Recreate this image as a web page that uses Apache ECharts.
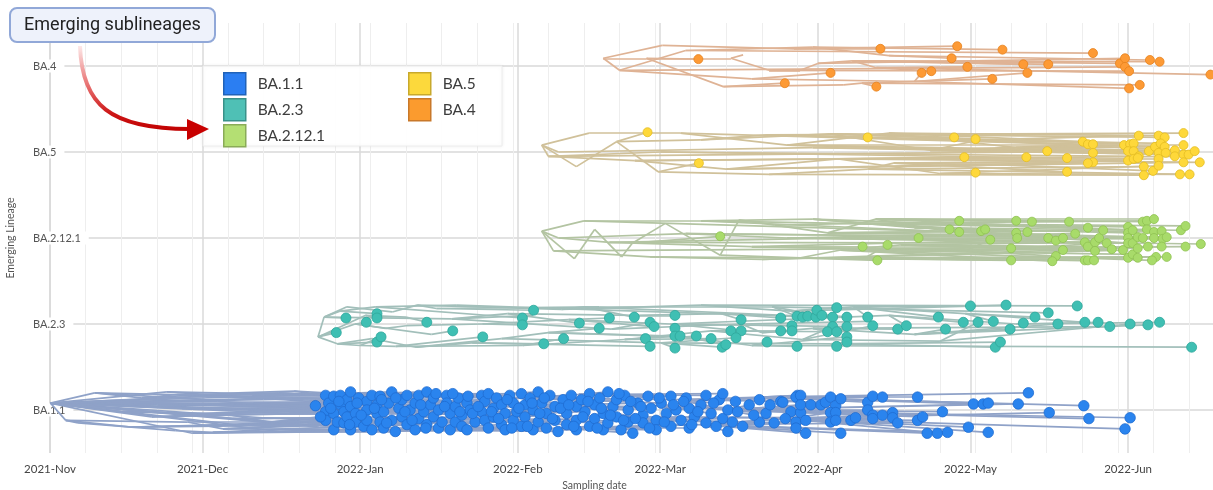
<!DOCTYPE html>
<html>
<head>
    <meta charset="utf-8">
    <title>Emerging sublineages</title>
    <style>
        html, body { margin: 0; padding: 0; background: #fff; }
        #container { width: 1213px; height: 490px; }
    </style>
</head>
<body>
<div id="container"></div>
<script src="https://cdn.jsdelivr.net/npm/echarts@6/dist/echarts.min.js"></script>
<script type="text/javascript">
    // rows from bottom to top
    var lineages = ['BA.1.1', 'BA.2.3', 'BA.2.12.1', 'BA.5', 'BA.4'];
    var monthNames = ['Jan', 'Feb', 'Mar', 'Apr', 'May', 'Jun', 'Jul', 'Aug', 'Sep', 'Oct', 'Nov', 'Dec'];

    // every record: [days since 2021-11-01, offset inside the row (row = 1), parent node index]
    var ba11Nodes = [
        [0.1, 0.08, -1], [8.8, 0.20, 0], [3.1, -0.12, 0], [5.5, -0.15, 2], [24.7, -0.24, 3], [32.0, -0.26, 4],
        [39.8, 0.16, 1], [47.6, 0.14, 0], [49.6, 0.0, 0], [50.6, -0.17, 0], [41.8, -0.09, 0], [55.5, 0.17, 6],
        [69.2, -0.23, 5], [73.1, 0.09, 7], [84.9, -0.06, 8], [92.7, 0.14, 13], [100.6, -0.21, 12], [108.4, 0.02, 14],
        [116.3, -0.12, 9], [124.1, 0.12, 15], [128.0, -0.17, 16], [21.2, 0.06, 0], [14.3, -0.02, 0], [30.5, 0.12, 1],
        [35.0, -0.05, 22], [44.0, 0.04, 21], [27.0, -0.14, 2], [18.0, 0.14, 1], [37.0, 0.20, 27], [46.0, -0.22, 5],
        [60.0, 0.02, 8], [64.0, -0.15, 9], [78.0, 0.15, 11], [88.0, -0.12, 12], [96.0, 0.05, 13], [104.0, 0.18, 15],
        [112.0, -0.08, 14], [120.0, 0.05, 17], [133.0, 0.0, 19], [140.0, 0.15, 19], [145.0, -0.10, 20],
        [33.0, 0.10, 0], [38.0, -0.18, 0], [52.0, 0.06, 0], [45.0, 0.20, 0],
        [12.0, 0.10, 0], [16.0, -0.20, 2], [25.0, 0.18, 27], [29.0, -0.04, 22], [34.0, -0.22, 26], [40.0, 0.08, 21],
        [43.0, -0.14, 24], [48.0, 0.22, 28],
        [26.0, 0.02, 0], [28.0, -0.27, 0], [31.0, 0.16, 0], [36.0, -0.10, 0], [39.0, 0.00, 0], [42.0, 0.12, 0],
        [45.0, -0.25, 0], [47.0, -0.04, 0], [50.0, 0.18, 0], [53.0, -0.20, 0], [20.0, -0.08, 0], [23.0, 0.21, 0],
        [30.0, -0.18, 46], [36.0, 0.05, 45], [44.0, -0.02, 63], [51.0, 0.10, 64], [54.0, -0.12, 65]
    ];
    var ba11Tips = [
        [52.2, 0.05, 25], [54.2, 0.17, 52], [54.2, -0.02, 53], [54.2, -0.12, 10], [54.8, 0.08, 21], [55.8, 0.16, 6],
        [55.8, -0.04, 57], [55.8, -0.23, 29], [56.5, -0.14, 26], [57.1, 0.17, 47], [57.1, 0.06, 43], [57.8, -0.02, 60],
        [57.8, -0.15, 9], [58.4, 0.12, 7], [58.4, -0.08, 51], [59.1, 0.21, 11], [59.1, 0.04, 66], [59.1, -0.23, 5],
        [60.1, -0.04, 67], [60.1, -0.14, 49], [60.7, 0.14, 58], [61.7, -0.19, 29], [62.3, 0.10, 50], [62.3, 0.0, 53],
        [62.3, -0.12, 10], [63.3, 0.17, 52], [63.3, -0.23, 54], [64.3, 0.06, 68], [64.3, -0.04, 48], [64.9, 0.16, 11],
        [64.9, -0.14, 69], [65.6, -0.02, 45], [65.6, -0.21, 31], [66.6, 0.08, 55], [67.2, 0.21, 6], [67.2, -0.12, 46],
        [67.9, -0.25, 59], [68.6, 0.02, 48], [69.2, 0.12, 44], [69.2, -0.08, 56],
        [70.2, 0.17, 11], [70.2, -0.17, 31], [70.8, 0.0, 57], [71.8, 0.08, 61], [71.8, -0.23, 12], [72.5, 0.17, 28],
        [72.5, -0.10, 51], [73.5, -0.02, 60], [74.1, 0.21, 6], [74.1, -0.17, 62], [74.8, 0.06, 50], [75.4, 0.14, 7],
        [75.4, -0.08, 43], [76.4, 0.0, 67], [76.4, -0.21, 12], [77.1, -0.14, 65], [78.0, 0.17, 11], [78.0, 0.08, 68],
        [78.7, -0.04, 48], [78.7, -0.23, 9], [79.7, 0.04, 13], [79.7, -0.14, 31], [80.3, 0.14, 64], [81.0, -0.06, 30],
        [81.0, -0.19, 12], [82.0, 0.08, 13], [82.0, -0.23, 49], [82.6, 0.0, 63], [83.6, -0.14, 31], [84.9, 0.17, 32],
        [84.9, -0.02, 57], [85.5, 0.10, 13], [85.5, -0.12, 69], [86.2, 0.19, 11], [86.2, -0.21, 12], [87.2, 0.02, 14],
        [87.2, -0.08, 31], [87.8, 0.14, 32], [88.8, 0.06, 66], [88.8, -0.17, 12], [89.5, -0.04, 14], [89.5, -0.23, 33],
        [90.4, 0.17, 32], [91.1, 0.08, 61], [91.1, -0.12, 33], [91.8, -0.02, 60], [92.7, 0.19, 11], [92.7, -0.19, 12],
        [93.4, 0.06, 13], [93.4, -0.08, 56], [94.4, 0.14, 15], [95.0, 0.0, 14], [95.0, -0.23, 54], [96.0, 0.21, 32],
        [96.0, -0.14, 33], [96.7, 0.08, 55], [97.6, -0.04, 14], [97.6, -0.21, 12], [98.3, 0.17, 15], [99.3, 0.04, 53],
        [99.3, -0.12, 33], [99.9, -0.25, 12],
        [100.9, 0.12, 15], [101.6, -0.04, 34], [101.6, -0.17, 33], [102.5, 0.17, 15], [103.5, 0.04, 14], [103.5, -0.12, 16],
        [103.5, -0.23, 12], [104.5, 0.12, 34], [105.2, -0.02, 14], [106.1, 0.19, 35], [106.1, -0.19, 16], [107.1, 0.06, 34],
        [107.1, -0.10, 33], [108.1, 0.14, 15], [108.8, -0.04, 17], [108.8, -0.23, 16], [109.7, 0.21, 35], [109.7, -0.15, 33],
        [110.7, 0.04, 17], [111.4, 0.12, 34], [111.4, -0.08, 14], [112.3, -0.23, 16], [113.0, 0.17, 35], [113.7, 0.0, 17],
        [113.7, -0.14, 36], [114.6, -0.27, 16], [115.6, 0.08, 34], [116.6, -0.06, 36], [116.6, -0.15, 18], [117.6, 0.16, 35],
        [118.2, 0.02, 17], [119.2, -0.12, 18], [119.2, -0.23, 16], [120.2, 0.08, 15], [121.2, -0.04, 37], [122.1, 0.16, 35],
        [122.1, -0.19, 18], [123.1, 0.0, 37], [124.1, -0.12, 36], [125.1, 0.14, 19], [125.7, 0.02, 37], [125.7, -0.21, 16],
        [126.7, -0.08, 18], [128.0, 0.06, 19], [129.0, 0.17, 35], [129.0, -0.15, 20],
        [130.0, -0.04, 37], [131.0, -0.19, 20], [131.6, 0.12, 19], [132.3, 0.19, 35], [132.3, -0.10, 18], [133.3, 0.0, 37],
        [133.3, -0.25, 20], [134.2, -0.14, 36], [135.2, -0.02, 38], [136.2, -0.19, 20], [137.5, 0.06, 38], [139.5, 0.12, 19],
        [139.5, -0.14, 20], [140.8, -0.04, 38], [142.4, -0.15, 18], [143.7, 0.10, 39], [145.7, -0.02, 38], [147.0, 0.17, 39],
        [53.2, -0.08, 51], [55.2, 0.02, 41], [56.8, 0.10, 45], [58.9, -0.17, 46], [60.4, 0.08, 25], [61.2, -0.06, 50],
        [63.8, 0.02, 43], [65.2, 0.12, 7], [66.2, -0.15, 49], [68.0, 0.14, 44], [69.8, -0.02, 30], [71.2, -0.12, 31],
        [72.9, 0.06, 13], [73.9, -0.21, 12], [75.9, 0.19, 47], [77.6, 0.04, 8], [79.2, 0.19, 32], [80.6, -0.02, 30],
        [82.2, 0.16, 32], [83.1, -0.04, 13], [84.2, 0.04, 30], [86.8, -0.02, 14], [88.2, -0.10, 31], [89.9, 0.12, 13],
        [90.8, -0.21, 33], [92.2, 0.02, 14], [93.9, -0.19, 12], [94.8, 0.08, 15], [96.3, -0.04, 14], [97.2, 0.14, 32],
        [98.8, -0.10, 33], [100.4, 0.02, 34], [102.0, 0.06, 15], [103.0, -0.19, 16], [104.8, -0.08, 14], [105.8, 0.10, 34],
        [107.6, -0.21, 16], [108.4, 0.02, 34], [110.2, -0.06, 17], [111.9, 0.19, 35], [112.8, -0.12, 36], [114.2, 0.10, 15],
        [115.1, -0.10, 17], [116.2, 0.04, 34], [117.9, -0.21, 16], [119.8, 0.14, 35], [120.8, -0.14, 18], [122.6, 0.06, 37],
        [124.6, 0.10, 19], [126.2, -0.17, 16], [127.4, -0.02, 37], [130.5, 0.08, 19], [134.8, 0.10, 38], [138.4, -0.06, 38],
        [141.6, 0.06, 39], [144.6, -0.10, 20],
        [144.1, 0.09, 39], [146.7, 0.15, 39], [147.6, 0.17, 39], [146.7, -0.14, 40], [146.7, -0.21, 20], [147.6, -0.03, 40],
        [147.6, 0.06, 38], [148.6, -0.12, 40], [148.6, -0.27, 20], [149.6, 0.06, 38], [151.6, 0.06, 39], [152.5, 0.09, 19],
        [153.5, 0.15, 39], [154.5, 0.05, 38], [155.5, 0.13, 39], [153.5, -0.03, 40], [154.5, -0.03, 37], [153.5, -0.14, 40],
        [154.5, -0.12, 20], [155.5, -0.27, 20], [157.5, -0.12, 40], [158.4, -0.09, 36], [160.8, 0.09, 39], [160.8, 0.0, 38],
        [161.8, 0.16, 39], [163.7, 0.15, 19], [161.8, -0.06, 40], [161.8, -0.10, 36], [163.7, -0.06, 38], [165.7, -0.03, 37],
        [165.7, -0.09, 40], [166.7, -0.15, 20], [170.6, 0.15, 39], [170.6, -0.12, 40], [171.6, -0.08, 38], [172.5, -0.27, 20],
        [174.5, -0.27, 40], [176.5, -0.26, 20], [175.5, -0.02, 38], [180.6, -0.20, 40], [181.6, 0.07, 39], [183.5, 0.07, 38],
        [184.5, 0.08, 39], [184.5, -0.26, 40], [190.4, 0.07, 38], [192.4, 0.20, 39], [196.5, -0.03, 40], [203.3, 0.05, 39],
        [204.3, -0.10, 38], [211.4, -0.22, 40], [212.4, -0.09, 38]
    ];

    var ba23Nodes = [
        [52.7, -0.15, -1], [53.9, 0.08, 0], [58.4, 0.20, 1], [56.5, -0.23, 0], [63.3, -0.17, 3], [67.3, 0.14, 2],
        [72.2, 0.22, 5], [72.0, -0.27, 4], [79.0, 0.06, 1], [88.8, -0.17, 7], [100.6, 0.17, 6], [110.4, -0.06, 8],
        [120.2, -0.22, 9], [128.0, 0.22, 10], [135.9, 0.0, 11], [145.7, 0.15, 13], [153.5, -0.23, 12], [161.4, 0.03, 14],
        [60.0, 0.0, 0], [66.0, -0.05, 18], [95.0, 0.10, 8], [140.0, -0.10, 14],
        [57.0, 0.15, 1], [61.0, -0.25, 3], [70.0, -0.02, 19], [76.0, 0.18, 6], [83.0, -0.22, 7], [90.0, 0.12, 8],
        [98.0, -0.10, 9], [105.0, 0.20, 10], [115.0, 0.10, 27], [125.0, -0.15, 28], [132.0, 0.12, 30], [138.0, -0.25, 31],
        [150.0, -0.05, 21], [158.0, 0.20, 15], [170.0, -0.12, 34], [180.0, 0.12, 35], [64.0, 0.20, 22], [68.0, -0.26, 23],
        [62.0, 0.10, 0], [75.0, -0.12, 18], [85.0, 0.00, 24], [93.0, -0.25, 39], [102.0, 0.05, 42], [108.0, 0.20, 25],
        [113.0, -0.18, 43], [122.0, 0.00, 44], [130.0, -0.08, 46], [142.0, 0.20, 45], [148.0, -0.18, 48], [165.0, 0.10, 47],
        [175.0, -0.20, 50], [190.0, 0.00, 51], [80.0, 0.22, 38], [70.0, 0.08, 40]
    ];
    var ba23Tips = [
        [56.3, -0.10, 0], [58.2, 0.07, 1], [62.2, 0.02, 18], [64.3, 0.12, 22], [64.3, 0.07, 40], [64.3, -0.21, 3],
        [65.1, -0.15, 23], [74.1, 0.02, 55], [79.2, -0.08, 41], [85.1, -0.15, 39], [92.9, 0.07, 38], [92.9, -0.01, 42],
        [95.1, 0.16, 25], [97.1, -0.23, 26], [101.0, -0.17, 43], [104.1, 0.01, 27], [108.0, -0.05, 28], [110.0, 0.07, 44],
        [114.9, 0.08, 29], [117.1, -0.17, 46], [118.0, 0.02, 11], [118.0, -0.26, 26], [118.8, -0.03, 44], [122.9, 0.10, 30],
        [122.9, -0.05, 47], [122.9, -0.14, 28], [123.9, -0.14, 46], [122.9, -0.28, 12], [127.1, -0.14, 31], [130.0, -0.17, 46],
        [132.2, -0.27, 12], [132.9, -0.24, 31], [133.9, -0.08, 48], [135.9, 0.05, 32], [135.9, -0.08, 47], [134.9, -0.16, 12],
        [141.0, -0.21, 33], [143.7, 0.07, 32], [143.7, -0.08, 48], [145.9, -0.02, 47], [145.9, -0.08, 21], [146.9, 0.09, 49],
        [146.9, -0.26, 33], [148.0, 0.08, 15], [149.0, 0.09, 29], [150.6, 0.08, 54], [150.8, 0.16, 15], [151.8, 0.10, 49],
        [153.9, 0.08, 15], [153.9, -0.03, 50], [154.7, 0.19, 15], [152.9, -0.09, 34], [154.7, -0.09, 48], [156.7, 0.08, 15],
        [156.7, -0.03, 47], [156.7, -0.15, 33], [156.7, -0.21, 16], [154.7, -0.26, 16], [160.8, 0.08, 35], [161.8, -0.02, 50],
        [166.7, -0.06, 34], [168.4, -0.02, 51], [174.7, 0.08, 35], [176.1, -0.06, 36], [179.6, 0.02, 51], [181.0, 0.21, 35],
        [182.5, 0.02, 52], [185.5, 0.03, 37], [185.9, -0.27, 16], [186.9, -0.21, 16], [188.0, 0.22, 15], [188.8, -0.06, 36],
        [191.4, 0.01, 53], [193.7, 0.08, 37], [196.3, 0.13, 49], [198.2, 0.0, 36], [202.0, 0.21, 13], [203.5, 0.02, 37],
        [206.1, 0.02, 53], [208.4, -0.03, 34], [212.4, 0.0, 52], [215.9, -0.01, 36], [218.2, 0.02, 53], [224.5, -0.27, 33]
    ];

    var ba2121Nodes = [
        [96.7, 0.08, -1], [103.1, -0.24, 0], [107.1, 0.10, 1], [112.4, -0.22, 2], [114.5, -0.06, 3], [121.0, 0.17, 4],
        [131.8, -0.20, 5], [135.5, 0.21, 6], [142.5, 0.15, 7], [147.6, -0.23, 6], [152.9, 0.06, 8], [162.4, 0.22, 10],
        [158.4, 0.17, 8], [155.5, -0.14, 9], [167.3, -0.08, 13], [175.1, 0.09, 11], [100.0, 0.0, 0], [125.0, 0.05, 16],
        [145.0, 0.0, 17],
        [99.0, -0.15, 0], [105.0, 0.20, 0], [110.0, -0.05, 16], [118.0, -0.22, 19], [128.0, 0.20, 20], [138.0, -0.10, 21],
        [150.0, 0.22, 23], [160.0, -0.24, 22], [170.0, 0.12, 25], [180.0, -0.15, 24], [185.0, 0.05, 18], [140.0, -0.25, 22]
    ];
    var ba2121Tips = [
        [131.8, 0.02, 4], [159.8, -0.10, 24], [164.7, -0.08, 26], [162.7, -0.26, 9], [170.8, 0.0, 18], [176.9, 0.10, 25],
        [178.8, 0.20, 11], [178.8, 0.07, 23], [183.1, 0.08, 27], [183.9, 0.10, 12], [184.9, -0.02, 28], [189.0, -0.12, 14],
        [189.0, -0.26, 26], [190.0, 0.20, 11], [190.0, 0.06, 29], [190.2, 0.0, 18], [192.2, 0.07, 27], [193.1, 0.19, 11],
        [196.3, 0.0, 29], [197.8, -0.03, 18], [199.2, 0.0, 15], [199.2, -0.14, 30], [197.8, -0.21, 28], [197.1, -0.27, 13],
        [200.4, 0.19, 11], [201.6, 0.05, 21], [203.5, -0.05, 14], [203.5, -0.26, 9], [204.1, 0.12, 23], [204.1, -0.10, 14],
        [204.1, -0.26, 26], [205.3, -0.26, 9], [205.5, -0.05, 18], [206.3, 0.0, 24], [207.1, 0.09, 10], [205.5, -0.15, 14],
        [207.8, -0.06, 28], [208.8, -0.13, 13], [211.0, -0.14, 30], [212.0, 0.13, 12], [212.0, 0.06, 27], [212.0, 0.0, 17],
        [212.0, -0.06, 29], [212.0, -0.23, 9], [212.9, 0.09, 11], [212.9, -0.06, 21], [212.9, -0.19, 13], [213.9, 0.01, 20],
        [213.9, -0.12, 14], [213.9, -0.23, 9], [214.9, 0.19, 11], [215.7, 0.20, 12], [217.1, 0.22, 11], [215.7, 0.10, 10],
        [217.1, 0.07, 15], [214.9, 0.0, 29], [217.1, 0.0, 17], [215.9, -0.10, 28], [218.6, 0.08, 25], [218.8, -0.01, 18],
        [219.6, 0.01, 10], [218.6, -0.10, 24], [217.5, -0.22, 9], [216.7, -0.26, 13], [219.6, -0.22, 26], [222.4, 0.09, 27],
        [223.3, 0.14, 12], [223.3, -0.10, 19], [226.3, -0.07, 18]
    ];

    var ba5Nodes = [
        [96.7, 0.08, -1], [103.5, -0.17, 0], [111.4, 0.12, 1], [119.6, -0.23, 2], [128.0, 0.14, 2], [140.8, 0.20, 4],
        [141.4, -0.26, 3], [153.3, 0.21, 4], [160.8, -0.20, 6], [165.9, -0.13, 8], [173.1, 0.02, 7], [182.9, 0.14, 10],
        [186.9, -0.15, 9], [100.0, 0.0, 0], [150.0, 0.05, 13],
        [98.0, -0.05, 0], [106.0, 0.22, 0], [115.0, -0.10, 15], [124.0, 0.22, 16], [133.0, -0.20, 17], [145.0, 0.08, 18],
        [155.0, -0.08, 19], [165.0, 0.22, 20], [175.0, -0.25, 21], [190.0, 0.05, 22], [120.0, 0.0, 15]
    ];
    var ba5Tips = [
        [117.5, 0.23, 2], [127.6, -0.13, 3], [160.8, 0.17, 5], [177.8, 0.17, 7], [182.0, 0.15, 7], [179.8, -0.06, 21],
        [182.0, -0.24, 23], [192.0, -0.06, 17], [196.1, 0.01, 24], [200.0, -0.07, 25], [200.0, -0.23, 9], [203.1, 0.12, 22],
        [204.1, 0.09, 5], [205.1, 0.09, 10], [205.1, -0.01, 20], [205.1, -0.12, 19], [204.1, -0.13, 9], [211.2, 0.08, 24],
        [212.4, 0.09, 7], [213.1, 0.10, 5], [214.1, 0.19, 11], [212.0, 0.01, 15], [213.1, 0.01, 14], [214.1, -0.05, 25],
        [212.0, -0.10, 9], [213.1, -0.08, 21], [213.9, -0.07, 12], [215.1, -0.17, 8], [215.1, -0.27, 6], [216.9, -0.22, 12],
        [216.1, 0.01, 20], [217.3, 0.06, 24], [218.0, 0.19, 22], [219.2, 0.17, 7], [218.4, 0.10, 11], [218.0, -0.01, 10],
        [218.0, -0.08, 21], [218.0, -0.16, 23], [219.2, 0.06, 18], [219.4, -0.01, 10], [221.2, 0.02, 11], [221.2, -0.05, 17],
        [222.9, 0.22, 5], [222.9, 0.08, 20], [222.9, -0.03, 14], [222.9, -0.12, 19], [223.9, -0.03, 10], [225.1, 0.01, 24],
        [222.2, -0.26, 23], [224.1, -0.26, 8], [226.1, -0.12, 21]
    ];

    var ba4Nodes = [
        [108.8, 0.09, -1], [120.4, 0.24, 0], [117.3, 0.09, 0], [132.4, -0.24, 2], [133.9, 0.09, 2], [136.3, 0.13, 4],
        [141.4, -0.05, 4], [146.3, 0.20, 1], [147.5, -0.05, 6], [151.0, 0.03, 8], [156.1, -0.22, 3], [157.8, 0.06, 9],
        [159.6, -0.20, 10], [162.5, -0.02, 11],
        [112.0, -0.05, 0], [125.0, 0.18, 14], [138.0, -0.15, 14], [150.0, 0.22, 15], [165.0, 0.12, 17], [170.0, -0.18, 16]
    ];
    var ba4Tips = [
        [127.5, 0.08, 2], [144.5, -0.20, 3], [153.5, -0.08, 16], [162.5, -0.24, 12], [163.3, 0.20, 7], [171.4, -0.08, 19],
        [173.3, -0.06, 13], [177.3, 0.09, 18], [178.4, 0.23, 7], [180.4, -0.01, 13], [185.3, -0.15, 12], [187.3, 0.19, 17],
        [191.4, 0.02, 11], [192.2, -0.08, 19], [196.3, 0.02, 11], [205.1, 0.15, 15], [210.4, 0.03, 11], [211.4, 0.09, 9],
        [211.4, -0.01, 14], [212.2, -0.06, 6], [212.2, -0.26, 19], [214.3, -0.22, 12], [216.3, 0.07, 18], [218.2, 0.05, 11],
        [228.2, -0.10, 13]
    ];

    var t0 = new Date(2021, 10, 1).getTime();
    var DAY = 86400000;
    var lastDay = 228.7;

    var dotColor = ['#2a84ee', '#3fbfb3', '#a8db6a', '#fed83a', '#fd9a35'];
    var dotBorder = ['#1f6cd0', '#2fa79c', '#8fc152', '#e3bd22', '#e6821d'];
    var treeColor = ['#8fa2c8', '#a2bfba', '#b3c4a2', '#d0c19a', '#dfb395'];
    var legendFill = ['#2b7ef2', '#4fc0b5', '#b4df73', '#fcd93c', '#fb9b2e'];
    var legendBorder = ['#2062b8', '#3a9189', '#8aab58', '#c8a92c', '#c8782a'];

    function toPoint(row, rec) {
        return [t0 + rec[0] * DAY, row * 2 + 1 + rec[1] * 2];
    }

    function lineageSeries(row, nodes, tips, size) {
        var edges = [];
        nodes.forEach(function (n) {
            if (n[2] >= 0) {
                edges.push({coords: [toPoint(row, nodes[n[2]]), toPoint(row, n)]});
            }
        });
        tips.forEach(function (t) {
            edges.push({coords: [toPoint(row, nodes[t[2]]), toPoint(row, t)]});
        });
        return [{
            type: 'lines',
            coordinateSystem: 'cartesian2d',
            xAxisIndex: 1,
            yAxisIndex: 0,
            silent: true,
            z: 2,
            lineStyle: {color: treeColor[row], width: 1.7, opacity: 1},
            data: edges
        }, {
            type: 'scatter',
            name: lineages[row],
            xAxisIndex: 1,
            yAxisIndex: 0,
            silent: true,
            z: 3,
            symbolSize: size,
            itemStyle: {color: dotColor[row], borderColor: dotBorder[row], borderWidth: 0.8, opacity: 1},
            data: tips.map(function (t) { return toPoint(row, t); })
        }];
    }

    function legendItem(row) {
        return {
            name: lineages[row],
            itemStyle: {color: legendFill[row], borderColor: legendBorder[row], borderWidth: 1.5}
        };
    }

    var legendBase = {
        orient: 'vertical',
        top: 72,
        padding: 0,
        icon: 'rect',
        itemWidth: 22,
        itemHeight: 22,
        itemGap: 2.5,
        selectedMode: false,
        textStyle: {fontFamily: 'Lato', fontSize: 15.5, color: '#3d3d3d', padding: [0, 0, 0, 7]}
    };

    var series = []
        .concat(lineageSeries(0, ba11Nodes, ba11Tips, 10.5))
        .concat(lineageSeries(1, ba23Nodes, ba23Tips, 10))
        .concat(lineageSeries(2, ba2121Nodes, ba2121Tips, 9))
        .concat(lineageSeries(3, ba5Nodes, ba5Tips, 9))
        .concat(lineageSeries(4, ba4Nodes, ba4Tips, 9));

    var arrowGradient = new echarts.graphic.LinearGradient(0, 0, 0, 1, [
        {offset: 0, color: '#fff0f0'},
        {offset: 0.5, color: '#e66a6a'},
        {offset: 0.8, color: '#cc1515'},
        {offset: 1, color: '#c00000'}
    ]);

    var myChart = echarts.init(document.getElementById('container'));
    var option = {
        animation: false,
        backgroundColor: '#fff',
        grid: {left: 50, right: 0, top: 23, bottom: 37, outerBoundsMode: 'none'},
        xAxis: [{
            // weekly guide lines
            type: 'value',
            position: 'top',
            min: 0,
            max: lastDay,
            interval: 7,
            axisLine: {show: false},
            axisTick: {show: false},
            axisLabel: {show: false},
            splitLine: {show: true, showMaxLine: false, lineStyle: {color: '#eeeeee', width: 1}}
        }, {
            type: 'time',
            position: 'bottom',
            min: t0,
            max: t0 + lastDay * DAY,
            minInterval: 28 * DAY,
            maxInterval: 31 * DAY,
            name: 'Sampling date',
            nameLocation: 'middle',
            nameGap: 27,
            nameTextStyle: {fontFamily: 'Lato', fontSize: 10.5, color: '#555', padding: [0, 74, 0, 0]},
            axisLine: {show: false},
            axisTick: {show: false},
            axisLabel: {
                margin: 10,
                fontFamily: 'Lato',
                fontSize: 11.5,
                color: '#444',
                showMaxLabel: false,
                formatter: function (value) {
                    var d = new Date(value);
                    if (d.getDate() !== 1) return '';
                    return d.getFullYear() + '-' + monthNames[d.getMonth()];
                }
            },
            splitLine: {show: true, showMaxLine: false, lineStyle: {color: '#dadada', width: 1.5}}
        }],
        yAxis: {
            type: 'value',
            min: 0,
            max: 10,
            interval: 1,
            name: 'Emerging Lineage',
            nameLocation: 'middle',
            nameGap: 34,
            nameTextStyle: {fontFamily: 'Lato', fontSize: 10.5, color: '#555'},
            axisLine: {show: false},
            axisTick: {show: false},
            axisLabel: {
                align: 'left',
                margin: 17,
                fontFamily: 'Lato',
                fontSize: 11,
                color: '#555',
                backgroundColor: '#fff',
                padding: [1, 8, 1, 0],
                formatter: function (value) {
                    return value % 2 === 1 ? lineages[(value - 1) / 2] : '';
                }
            },
            splitLine: {show: true, lineStyle: {color: ['rgba(0,0,0,0)', '#e2e2e2'], width: 1.8}}
        },
        legend: [
            Object.assign({left: 223, data: [legendItem(0), legendItem(1), legendItem(2)]}, legendBase),
            Object.assign({left: 408, data: [legendItem(3), legendItem(4)]}, legendBase)
        ],
        graphic: [{
            type: 'rect',
            z: 3,
            shape: {x: 203, y: 66, width: 299, height: 80},
            style: {fill: 'rgba(255,255,255,0.94)', stroke: '#ececec', lineWidth: 1,
                shadowBlur: 4, shadowColor: 'rgba(0,0,0,0.06)'}
        }, {
            type: 'bezierCurve',
            z: 20,
            shape: {x1: 80, y1: 46, cpx1: 82, cpy1: 105, cpx2: 110, cpy2: 129, x2: 190, y2: 129},
            style: {stroke: arrowGradient, lineWidth: 4, fill: null}
        }, {
            type: 'polygon',
            z: 20,
            shape: {points: [[187, 119], [209, 129], [187, 140]]},
            style: {fill: '#c80000'}
        }, {
            type: 'rect',
            z: 21,
            shape: {x: 10, y: 8, width: 205, height: 34, r: 7},
            style: {fill: '#eef2fb', stroke: '#91a8d8', lineWidth: 2}
        }, {
            type: 'text',
            z: 22,
            x: 112.5,
            y: 25,
            style: {text: 'Emerging sublineages', font: '18px Roboto', fill: '#222',
                align: 'center', verticalAlign: 'middle'}
        }],
        series: series
    };
    myChart.setOption(option, true);
</script>
</body>
</html>
